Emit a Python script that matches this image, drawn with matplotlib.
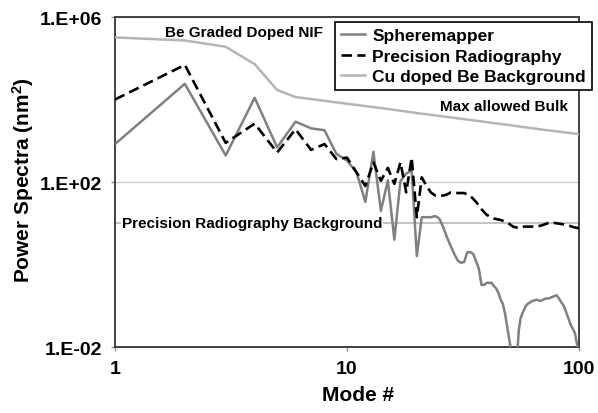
import matplotlib
matplotlib.use("Agg")
import matplotlib.pyplot as plt
from matplotlib.ticker import FixedLocator, FixedFormatter, NullLocator

plt.rcParams['font.family'] = ['Liberation Sans', 'DejaVu Sans']
plt.rcParams['font.weight'] = 'bold'
plt.rcParams['mathtext.fontset'] = 'custom'
plt.rcParams['mathtext.rm'] = 'Liberation Sans:bold'
plt.rcParams['mathtext.default'] = 'rm'

# Cu doped Be background (max allowed bulk)
cu_modes = [1, 2, 3, 4, 5, 6, 8, 10, 15, 20, 30, 50, 70, 100]
cu_power = [3.2e5, 2.7e5, 1.9e5, 7.2e4, 1.7e4, 1.15e4, 9.3e3, 7.9e3,
            5.9e3, 4.7e3, 3.5e3, 2.4e3, 1.85e3, 1.45e3]

# Precision radiography background level
bg_modes = [1, 100]
bg_power = [10, 10]

# Spheremapper
sm_modes = [1, 2, 3, 4, 5, 6, 7, 8, 9, 10, 11, 12, 13, 14, 15, 16, 17, 18, 19, 20,
            21, 22, 23, 24, 25, 26, 27, 28, 29, 30, 31, 32, 33, 34, 35, 36, 37, 38,
            39, 40, 41, 42, 43, 44, 45, 46, 47, 48, 49, 50, 51, 52, 53, 54, 55, 56,
            57, 58, 59, 60, 62, 64, 66, 68, 70, 72, 74, 76, 78, 80, 82, 84, 86, 88,
            90, 92, 94, 96, 98, 100]
sm_power = [830, 2.4e4, 440, 1.1e4, 690, 2.9e3, 2.0e3, 1.8e3, 480, 330, 170, 33,
            540, 20, 110, 4.0, 105, 160, 190, 1.6,
            14, 14, 14, 15, 13, 8.0, 4.5, 2.8, 1.8, 1.25, 1.1, 1.15, 2.0, 2.0, 1.8,
            1.2, 0.8, 0.32, 0.32, 0.36, 0.36, 0.36, 0.3, 0.26, 0.2, 0.14, 0.11,
            0.065, 0.032, 0.016, 0.008, 0.004, 0.0025, 0.005, 0.025, 0.05,
            0.065, 0.08, 0.1, 0.11, 0.125, 0.135, 0.14, 0.13, 0.14, 0.15, 0.15,
            0.16, 0.17, 0.18, 0.15, 0.12, 0.1, 0.07, 0.05, 0.035, 0.028, 0.022,
            0.012, 0.005]

# Precision radiography
pr_modes = [1, 2, 3, 4, 5, 6, 7, 8, 9, 10, 11, 12, 13, 14, 15, 16, 17, 18, 19, 20,
            21, 22, 23, 24, 25, 26, 27, 28, 29, 30, 32, 34, 36, 38, 40, 43, 46, 49,
            52, 55, 58, 62, 66, 70, 75, 80, 85, 90, 95, 100]
pr_power = [1.0e4, 6.9e4, 890, 2.6e3, 520, 1.9e3, 600, 830, 360, 390, 170, 80,
            300, 107, 220, 90, 300, 56, 390, 14,
            130, 81, 56, 47, 47, 47, 50, 56, 56, 54, 54, 46, 33, 22, 16, 13, 12,
            10.5, 8.3, 7.6, 8.3, 8.3, 8.3, 9.1, 10.5, 10, 9.5, 8.9, 8.0, 7.6]

fig = plt.figure(figsize=(5.98, 4.14), dpi=100)
ax = fig.add_axes([0.1923, 0.1594, 0.7759, 0.7971])

ax.plot(cu_modes, cu_power, color='#b4b4b4', lw=1.8, label='Cu doped Be Background', zorder=3)
ax.plot(bg_modes, bg_power, color='#c4c4c4', lw=1.5, zorder=2)
ax.plot(sm_modes, sm_power, color='#808080', lw=1.8, label='Spheremapper', zorder=4)
ax.plot(pr_modes, pr_power, color='black', lw=1.9, dashes=(4, 2),
        label='Precision Radiography', zorder=5)

ax.set_xscale('log')
ax.set_yscale('log')
ax.set_xlim(1, 100)
ax.set_ylim(1e-2, 1e6)

ax.xaxis.set_major_locator(FixedLocator([1, 10, 100]))
ax.xaxis.set_major_formatter(FixedFormatter(['1', '10', '100']))
ax.xaxis.set_minor_locator(NullLocator())
ax.yaxis.set_major_locator(FixedLocator([1e-2, 1e2, 1e6]))
ax.yaxis.set_major_formatter(FixedFormatter(['1.E-02', '1.E+02', '1.E+06']))
ax.yaxis.set_minor_locator(NullLocator())
ax.tick_params(axis='both', labelsize=14, length=3, width=1, color='#909090', pad=6)
ax.yaxis.grid(True, color='#cccccc', lw=1)
ax.set_axisbelow(True)

for sp in ax.spines.values():
    sp.set_color('#404040')
    sp.set_linewidth(1.4)

ax.set_xlabel('Mode #', fontsize=15, fontweight='bold')
ax.xaxis.set_label_coords(0.524, -0.115)
ax.set_ylabel('Power Spectra (nm$^2$)', fontsize=15, fontweight='bold')
ax.yaxis.set_label_coords(-0.17, 0.51)

ax.text(1.64, 4.4e5, 'Be Graded Doped NIF', fontsize=11, fontweight='bold',
        va='center', ha='left', zorder=6)
ax.text(89.7, 6.9e3, 'Max allowed Bulk', fontsize=11, fontweight='bold',
        va='center', ha='right', zorder=6)
ax.text(1.072, 10, 'Precision Radiography Background', fontsize=11, fontweight='bold',
        va='center', ha='left', zorder=3,
        bbox=dict(facecolor='white', edgecolor='none', pad=0.5))

handles, labels = ax.get_legend_handles_labels()
order = [1, 2, 0]
leg = ax.legend([handles[i] for i in order], [labels[i] for i in order],
                loc='upper left', bbox_to_anchor=(0.56, 0.944),
                bbox_transform=fig.transFigure, fontsize=12.5, frameon=True,
                fancybox=False, edgecolor='black', framealpha=1,
                borderpad=0.35, labelspacing=0.3, handlelength=1.4,
                handletextpad=0.4, borderaxespad=0)
leg.get_frame().set_linewidth(1.2)
leg.set_zorder(10)

fig.savefig('out.png', dpi=100)
